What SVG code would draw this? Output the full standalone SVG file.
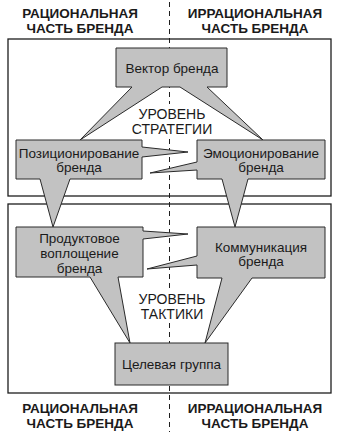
<svg xmlns="http://www.w3.org/2000/svg" width="337" height="434" viewBox="0 0 337 434">
<style>
.bg{fill:#fff}
.frame{fill:none;stroke:#1e1e1e;stroke-width:1.3}
.node{fill:#c2c2c2;stroke:#2a2a2a;stroke-width:1;stroke-linejoin:miter}
.t{font-family:"Liberation Sans",Arial,sans-serif;font-size:13.5px;fill:#1a1a1a;text-anchor:middle}
.lv{font-family:"Liberation Sans",Arial,sans-serif;font-size:14px;fill:#1a1a1a;text-anchor:middle}
.h{font-family:"Liberation Sans",Arial,sans-serif;font-size:13.5px;font-weight:bold;fill:#1a1a1a;text-anchor:middle}
.dash{fill:none;stroke:#1e1e1e;stroke-width:1;stroke-dasharray:5 4}
</style>
<rect class="bg" x="0" y="0" width="337" height="434"/>
<g id="connectors">
<path class="dash" d="M169.5 2 V104 M169.5 139 V289 M169.5 323 V432"/>
</g>
<g id="frames">
<rect class="frame" x="8" y="39" width="323" height="157"/>
<rect class="frame" x="8" y="204" width="323" height="189"/>
</g>
<g id="headers">
<text class="h" x="80" y="18">РАЦИОНАЛЬНАЯ</text>
<text class="h" x="80" y="33">ЧАСТЬ БРЕНДА</text>
<text class="h" x="255" y="18">ИРРАЦИОНАЛЬНАЯ</text>
<text class="h" x="255" y="33">ЧАСТЬ БРЕНДА</text>
<text class="h" x="80" y="413">РАЦИОНАЛЬНАЯ</text>
<text class="h" x="80" y="428">ЧАСТЬ БРЕНДА</text>
<text class="h" x="255" y="413">ИРРАЦИОНАЛЬНАЯ</text>
<text class="h" x="255" y="428">ЧАСТЬ БРЕНДА</text>
</g>
<g id="level-strategy">
<text class="lv" x="172" y="119">УРОВЕНЬ</text>
<text class="lv" x="172" y="134">СТРАТЕГИИ</text>
</g>
<g id="level-tactics">
<text class="lv" x="172" y="304">УРОВЕНЬ</text>
<text class="lv" x="172" y="319">ТАКТИКИ</text>
</g>
<g id="vector">
<polygon class="node" points="116,48 227,48 227,87 207,87 263,140 180,87 162,87 80,140 132,87 116,87"/>
<text class="t" x="172" y="72.5">Вектор бренда</text>
</g>
<g id="positioning">
<polygon class="node" points="16,140 142,140 142,147 188,152 142,157 142,179 70,179 53,227 40,179 16,179"/>
<text class="t" x="79" y="157.5">Позиционирование</text>
<text class="t" x="79" y="171.5">бренда</text>
</g>
<g id="emotion">
<polygon class="node" points="197,140 325,140 325,179 248,179 235,227 222,179 197,179 197,170 150,173 197,162"/>
<text class="t" x="261" y="157.5">Эмоционирование</text>
<text class="t" x="261" y="171.5">бренда</text>
</g>
<g id="product">
<polygon class="node" points="16,227 143,227 143,231 188,234 143,239 143,277 118,277 130,343 90,277 16,277"/>
<text class="t" x="79.5" y="242.5">Продуктовое</text>
<text class="t" x="79.5" y="257.5">воплощение</text>
<text class="t" x="79.5" y="272.5">бренда</text>
</g>
<g id="communication">
<polygon class="node" points="197,227 325,227 325,278 252,278 205,343 222,278 197,278 197,265 147,269 197,256"/>
<text class="t" x="261" y="251.5">Коммуникация</text>
<text class="t" x="261" y="265.5">бренда</text>
</g>
<g id="target">
<rect class="node" x="115" y="343" width="113" height="42"/>
<text class="t" x="171.5" y="368.5">Целевая группа</text>
</g>
</svg>
